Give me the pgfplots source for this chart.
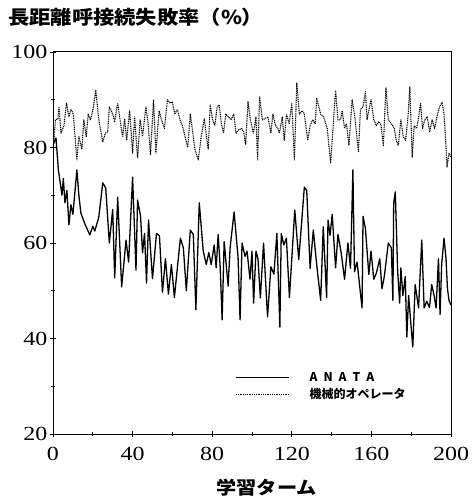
\documentclass[border=0pt]{standalone}
\usepackage{fontspec}
\usepackage{pgfplots}
\pgfplotsset{compat=1.18}
\newfontfamily\jp{Noto Sans CJK JP}
\newfontfamily\jpwide[FakeStretch=1.12]{Noto Sans CJK JP}
\newfontfamily\tickfont[FakeStretch=1.2]{Liberation Serif}

\begin{document}
\begin{tikzpicture}
\useasboundingbox (-53pt,-63pt) rectangle (418pt,434pt);
\begin{axis}[
    scale only axis,
    width=398pt, height=382pt,
    xmin=0, xmax=200,
    ymin=20, ymax=100,
    xtick={0,40,...,200},
    ytick={20,40,...,100},
    minor xtick={20,60,...,180},
    minor ytick={30,50,...,90},
    tick pos=left,
    tick align=center,
    major tick length=6pt,
    minor tick length=4pt,
    every tick/.style={black, line width=0.8pt},
    axis line style={line width=1pt},
    /pgf/number format/assume math mode=true,
    ticklabel style={font=\tickfont\fontsize{20}{20}\selectfont},
    xticklabel style={yshift=-7pt},
    yticklabel style={xshift=1pt},
    title={長距離呼接続失敗率（\%）},
    title style={at={(0,1)}, anchor=west, xshift=-45pt, yshift=29pt,
        inner sep=0pt, font=\jpwide\bfseries\fontsize{19}{19}\selectfont},
    xlabel={学習ターム},
    xlabel style={at={(0.537,0)}, anchor=north, yshift=-45pt,
        inner sep=0pt, font=\jpwide\bfseries\fontsize{18}{18}\selectfont},
    legend style={at={(axis cs:91.5,33.0)}, anchor=north west, draw=none,
        fill=none, inner sep=0pt, row sep=6pt,
        font=\jp\bfseries\fontsize{12}{12}\selectfont, nodes={inner sep=0pt}},
    legend cell align=left,
    legend image code/.code={\draw[#1] (0pt,0pt) -- (53pt,0pt); \path (73pt,0pt);},
]

% ANATA
\addplot[black, line width=1.3pt, line join=round] coordinates {
(0,80.5) (1.5,82) (2.7,75.3) (3.5,73) (4.5,70) (5.2,73.5) (6,68.4) (7,71)
(8,63.8) (9,68) (10,66) (12,75.3) (13,70) (14,66.3) (16,64) (18.5,61.7)
(20,63.5) (21,62.5) (23,65.4) (25,72.6) (26.5,71.5) (28.3,60) (30,67)
(31,52.7) (32.5,69.6) (34.5,50.8) (36.7,60.6) (38,56) (40,73.8) (41.7,54.3)
(42.5,69) (44,65.6) (45,58) (46,62) (47,51.6) (48,64.8) (50,52.5) (52,62)
(53.5,61.5) (55,49.7) (56.5,56.7) (58,49.3) (59.5,55.5) (61,48.6) (64,61)
(65.5,59) (67,50) (69,62.7) (70.5,61.8) (71.8,46) (73.5,68.4) (75.5,58.3)
(77,55.5) (78.3,58) (79.5,55.5) (81,59.6) (82,54.8) (83,61.8) (84,55)
(85,43.9) (86,60.3) (88,51) (89,59) (91,66.5) (93,57) (94,43.9) (95,60)
(96.5,57.2) (97.5,58.3) (99,52.4) (100,58.3) (100.8,47.4) (102,58.3)
(103,56.7) (104.2,48.5) (105.8,60) (107.8,44.5) (109.5,55) (111,53.5)
(112.5,62) (114,42.4) (114.7,62) (116,59.6) (117.3,61) (118.8,48.6)
(121.5,66.9) (123.5,56.5) (126.3,71.7) (127.5,71) (129.2,54.7) (130.8,62.7)
(132.5,55.5) (134.5,48) (135.8,63.4) (137.5,48.6) (138.2,64.8) (139.2,61.6)
(140.3,66) (142,54.8) (143.2,61.8) (144.8,58) (146.5,52.4) (148.2,60)
(149.5,54.7) (150.7,75.3) (151.5,54) (152.8,56) (155.3,46.4) (155.8,65.6)
(157,63) (158.7,53.4) (159.8,58.3) (161.2,52.4) (162.5,53.7) (164.2,56.7)
(165.3,50.4) (166.5,53) (168.5,60) (170,59) (170.8,48) (171.2,68.4)
(172,70.7) (173.2,54) (174.2,47.4) (174.8,54.8) (175.8,49) (177,53)
(177.8,40.3) (178.7,49) (179.8,43.2) (180.8,38.2) (182,51.3) (183.7,46.4)
(185.3,60.6) (186.5,46.4) (187.8,47.8) (189.2,46.5) (190.3,51.3) (191.5,49)
(192.5,46.4) (193.7,56.7) (194.5,45) (195.3,55.5) (196.5,61) (197.5,56.7)
(198.2,50.5) (199,48) (200,47)
};
\addlegendentry{A\hspace{6pt}N\hspace{6pt}A\hspace{6pt}T\hspace{6pt}A}

% 機械的オペレータ
\addplot[black, line width=1.1pt, dash pattern=on 1pt off 0.8pt, line join=round] coordinates {
(0,78.8) (1.2,85.8) (2.5,86) (3,88.5) (4,83) (5.5,84.6) (6.8,89.3) (8,86.4)
(9,88) (10.2,87) (12,77.4) (13,82.3) (14.5,79.6) (15.5,85.8) (16.7,82.3)
(17.7,87) (18.8,85.8) (20,87.7) (21.5,92) (23,85.8) (25,81.2) (26.3,83)
(27.5,83.3) (28.3,88.5) (30,87) (31,85.4) (32.5,89.3) (34,85) (35,82.2)
(36,86) (37,81.5) (38.5,87.7) (40,78.8) (41,86.4) (42.5,77.8) (43.8,85.8)
(45,82.3) (46.7,88.5) (47.8,85) (49,78.5) (50.5,90) (51.7,78.8) (53.3,87.7)
(54.5,85.8) (56,84) (57.5,90) (58.8,89.3) (60,89.5) (61.2,87) (62.5,88)
(63.8,85.8) (65,84.6) (67.7,80) (69,87) (70.5,82.3) (71.3,79.6) (73,77.4)
(74.5,82.3) (76,86) (78,79.6) (79,88.9) (80.2,85.8) (81.3,84.6) (82.5,88.5)
(83.5,88.9) (84.6,85) (85.7,83) (86.8,87) (88.2,86.4) (89.5,85.8) (90.8,87)
(92,83) (93.3,83.7) (94.7,84) (95.8,83.3) (96.8,80.6) (98,89.6) (99.2,85.8)
(100.7,83) (102,86.4) (102.8,77.4) (103.8,90.6) (105.2,85.8) (106.3,86)
(108,86.4) (109.5,83) (110.5,87) (111.8,84.6) (113,84) (113.8,83)
(115.2,86.4) (116.2,81.5) (117.3,87) (118.7,85) (120,89.3) (121.3,77.4)
(122.5,93.5) (123.8,87) (125.2,87.7) (126.3,87) (128,81.5) (129.2,84.6)
(130.5,85.8) (131.8,85) (132.5,90.3) (134.5,87) (136,86.4) (137.8,84)
(139.5,76.8) (140.8,84.6) (142,92) (143.2,85.8) (144.5,85.8) (145.3,87.7)
(146.5,84) (147.5,85) (148.7,80.4) (150.3,90) (151.5,87) (152.5,83)
(153.5,79) (154.5,88) (155.8,88.5) (157,91.7) (157.8,85.8) (158.7,87.7)
(159.8,90) (161.2,85.8) (162.5,84.6) (163.7,85.4) (164.8,84.8) (166,80.4)
(167.3,92.5) (168.5,85.8) (170,85) (171.5,84) (172.5,81.5) (173.5,80.4)
(174.8,85.8) (176,82.3) (177.2,81.5) (178.5,87) (179.3,92.7) (180.5,78)
(181.5,84.6) (182.7,84) (183.8,86.4) (184.7,89.3) (185.7,84) (186.8,85.8)
(188,86.4) (189.3,83.3) (190.5,85.8) (191.8,84) (193.2,87) (194.3,88.5)
(195.5,89.5) (196.5,87) (197.2,82.3) (198,75.9) (199,78.8) (200,78)
};
\addlegendentry{機械的オペレータ}

\end{axis}
\end{tikzpicture}
\end{document}
